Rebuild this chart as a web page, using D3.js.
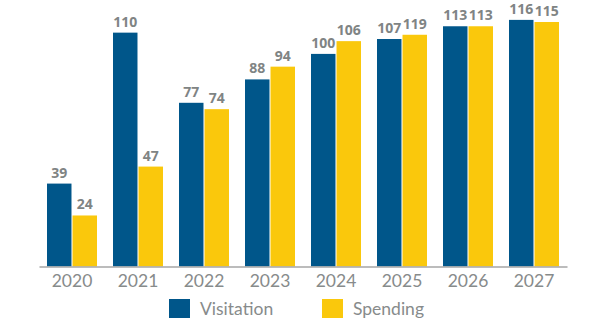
<!DOCTYPE html>
<html>
<head>
<meta charset="utf-8">
<script src="https://cdn.jsdelivr.net/npm/d3@7"></script>
<style>
  html, body { margin: 0; padding: 0; background: #fff; }
  svg { display: block; }
</style>
</head>
<body>
<svg id="chart" width="600" height="325"></svg>
<script>
const years = ["2020", "2021", "2022", "2023", "2024", "2025", "2026", "2027"];
const visitation = [39, 110, 77, 88, 100, 107, 113, 116];
const spending = [24, 47, 74, 94, 106, 109, 113, 115];
const visitationLabels = ["39", "110", "77", "88", "100", "107", "113", "116"];
const spendingLabels = ["24", "47", "74", "94", "106", "119", "113", "115"];
const seriesNames = ["Visitation", "Spending"];
const colors = ["#00568a", "#fac80c"];

const svg = d3.select("#chart");
const baseY = 266.5;

const x = d3.scaleBand().domain(years).range([39, 567])
  .paddingInner(16 / 66).paddingOuter(8 / 66);
const x1 = d3.scaleBand().domain(seriesNames).range([0, x.bandwidth()]).paddingInner(2 / 50);
const y = d3.scaleLinear().domain([0, 100]).range([baseY, baseY - 212.6]);

const series = [
  { name: seriesNames[0], values: visitation, labels: visitationLabels, color: colors[0] },
  { name: seriesNames[1], values: spending, labels: spendingLabels, color: colors[1] }
];

series.forEach(s => {
  const g = svg.append("g");
  g.selectAll("rect").data(years).join("rect")
    .attr("x", (d) => x(d) + x1(s.name))
    .attr("y", (d, i) => y(s.values[i]))
    .attr("width", x1.bandwidth())
    .attr("height", (d, i) => baseY - y(s.values[i]))
    .attr("fill", s.color);
  g.selectAll("text").data(years).join("text")
    .attr("x", (d) => x(d) + x1(s.name) + x1.bandwidth() / 2)
    .attr("y", (d, i) => y(s.values[i]) - 6)
    .attr("text-anchor", "middle")
    .attr("font-family", "'Open Sans', sans-serif")
    .attr("font-weight", "bold")
    .attr("font-size", 14)
    .attr("fill", "#7f8484")
    .text((d, i) => s.labels[i]);
});

// x axis
const axis = d3.axisBottom(x).tickSize(0).tickPadding(8);
const ag = svg.append("g").attr("transform", `translate(0,${baseY})`).call(axis);
ag.select(".domain").attr("stroke", "#a6a6a6").attr("stroke-width", 1.5);
ag.selectAll("text")
  .attr("font-family", "Lato, 'Open Sans', sans-serif")
  .attr("font-size", 17.5)
  .attr("fill", "#878b8b");

// legend
const legend = svg.append("g");
const legendX = [169, 322];
series.forEach((s, i) => {
  legend.append("rect")
    .attr("x", legendX[i]).attr("y", 299)
    .attr("width", 21).attr("height", 19)
    .attr("fill", s.color);
  legend.append("text")
    .attr("x", legendX[i] + 31).attr("y", 315)
    .attr("font-family", "Lato, 'Open Sans', sans-serif")
    .attr("font-size", 17.5)
    .attr("fill", "#878b8b")
    .text(s.name);
});
</script>
</body>
</html>
